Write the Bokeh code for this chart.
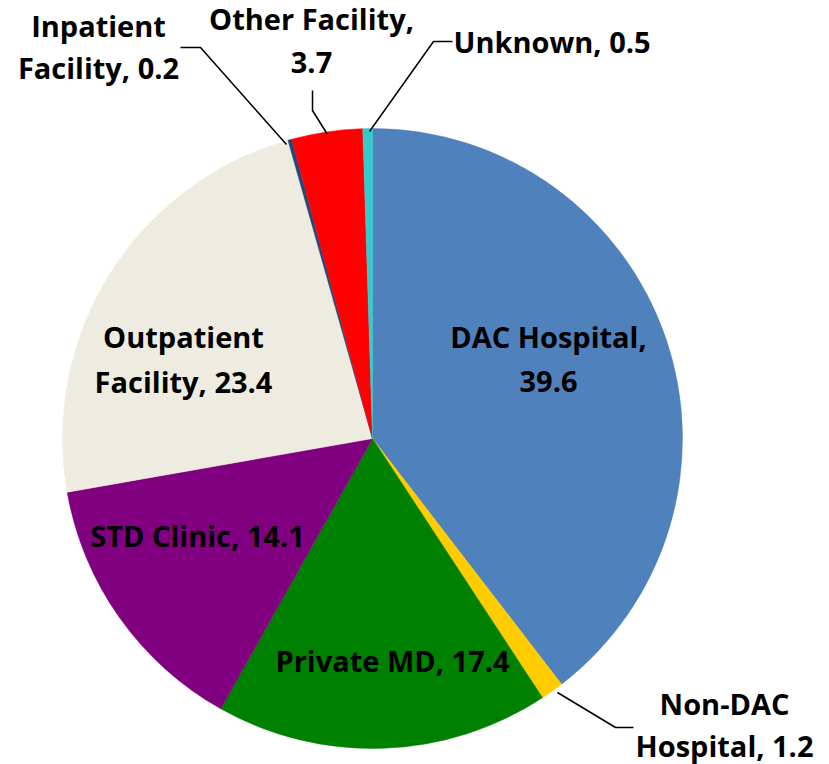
import numpy as np
from bokeh.plotting import figure
from bokeh.models import Range1d, ColumnDataSource
from bokeh.core.properties import value
from bokeh.embed import file_html
from bokeh.resources import INLINE

# ---- data ----
categories = ["DAC Hospital", "Non-DAC Hospital", "Private MD", "STD Clinic",
              "Outpatient Facility", "Inpatient Facility", "Other Facility", "Unknown"]
values = [39.6, 1.2, 17.4, 14.1, 23.4, 0.2, 3.7, 0.5]
colors = ["#4F81BD", "#FFCC00", "#008000", "#800080",
          "#EEECE1", "#1F497D", "#FF0000", "#33CCCC"]

# label text lines (as in the chart)
label_lines = [
    ["DAC Hospital,", "39.6"],
    ["Non-DAC", "Hospital, 1.2"],
    ["Private MD, 17.4"],
    ["STD Clinic, 14.1"],
    ["Outpatient", "Facility, 23.4"],
    ["Inpatient", "Facility, 0.2"],
    ["Other Facility,", "3.7"],
    ["Unknown, 0.5"],
]

# ---- layout (screen pixel coords, y downward) ----
W, H = 829, 764
OX, OY = 0, 0
def Y(y):  # screen y -> data y
    return H - y

CX, CY, R = 372, 438, 310
TEXT_SHIFT = -11  # renderer baseline correction

# label anchor (x, first baseline y, align, line gap)
label_pos = [
    (548, 347, "center", 45),
    (724, 714, "center", 42),
    (392, 671, "center", 44),
    (197, 546, "center", 44),
    (183, 347, "center", 45),
    (98, 36, "center", 42),
    (311, 29, "center", 44),
    (453, 52, "left", 44),
]

# leader lines (screen coords)
leaders = [
    None,
    [(557, 692), (615, 727), (633, 727)],
    None,
    None,
    None,
    [(180, 47), (200, 47), (286, 144)],
    [(312, 90), (312, 110), (327, 134)],
    [(452, 41), (433, 41), (369, 131)],
]

p = figure(width=W, height=H, output_backend="svg", toolbar_location=None,
           x_range=Range1d(OX, OX + W), y_range=Range1d(Y(OY + H), Y(OY)),
           min_border=0, outline_line_color=None, match_aspect=False)
p.axis.visible = False
p.grid.visible = False
p.background_fill_color = "white"
p.border_fill_color = "white"

total = float(np.sum(values))
cum = np.concatenate([[0.0], np.cumsum(values)])
start = np.pi / 2 - 2 * np.pi * cum[:-1] / total
end = np.pi / 2 - 2 * np.pi * cum[1:] / total

src = ColumnDataSource(dict(start=start, end=end, color=colors, cat=categories))
p.wedge(x=CX, y=Y(CY), radius=R, start_angle="start", end_angle="end",
        direction="clock", fill_color="color", line_color="color", line_width=0.5,
        source=src)

for ld in leaders:
    if ld is None:
        continue
    p.line([q[0] for q in ld], [Y(q[1]) for q in ld], line_color="black", line_width=1.5)

for lines, (lx, ly, al, gap) in zip(label_lines, label_pos):
    for i, t in enumerate(lines):
        p.text(x=[lx], y=[Y(ly + i * gap + TEXT_SHIFT)], text=[t],
               text_font=value("Open Sans"), text_font_style="bold",
               text_font_size="29px", text_color="black",
               text_align=al, text_baseline="alphabetic")

open("out.html", "w").write(file_html(p, INLINE))
